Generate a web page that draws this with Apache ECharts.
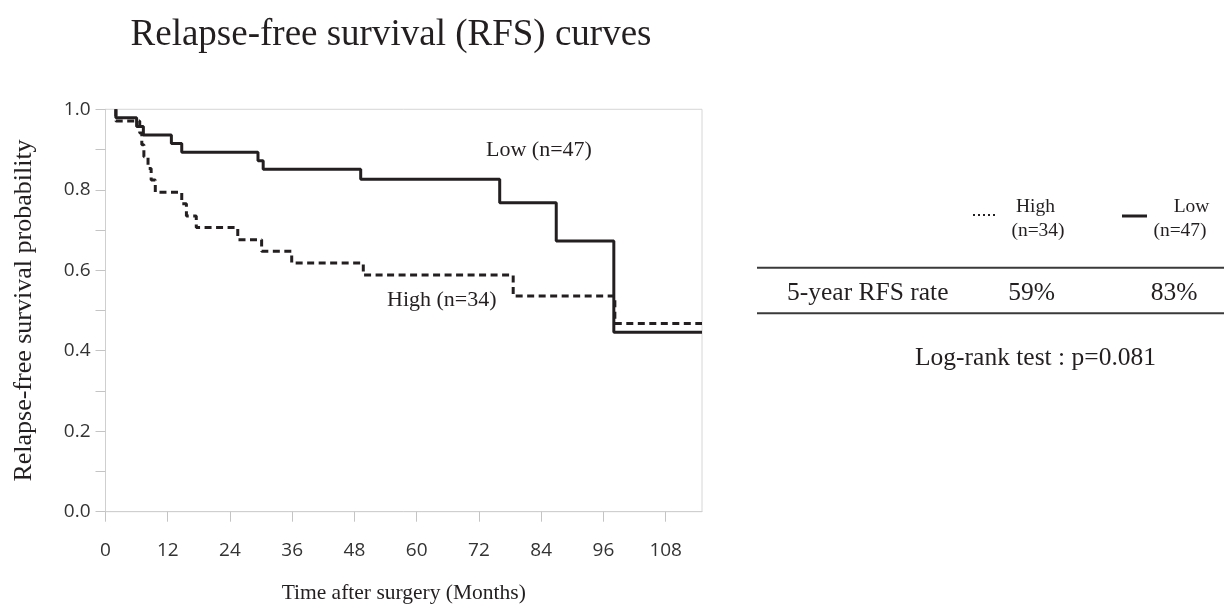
<!DOCTYPE html>
<html><head><meta charset="utf-8">
<script src="https://cdn.jsdelivr.net/npm/echarts@6.0.0/dist/echarts.min.js"></script>
<style>html,body{margin:0;padding:0;background:#fff}#c{width:1224px;height:604px}</style>
</head><body><div id="c"></div>
<script>
// ---- data ----
const titleText = 'Relapse-free survival (RFS) curves';
const xName = 'Time after surgery (Months)';
const yName = 'Relapse-free survival probability';
const xTicks = [0, 12, 24, 36, 48, 60, 72, 84, 96, 108];
const yLabels = [0, 0.2, 0.4, 0.6, 0.8, 1.0];
const yTicks = [0, 0.1, 0.2, 0.3, 0.4, 0.5, 0.6, 0.7, 0.8, 0.9, 1.0];
const xMax = 115;

// Low group (solid)
const lowTime = [2, 2, 6, 7.3, 12.7, 14.7, 29.4, 30.4, 49.2, 76.0, 86.9, 98.0, 115];
const lowSurv = [1.0, 0.979, 0.957, 0.936, 0.915, 0.893, 0.872, 0.851, 0.826, 0.768, 0.673, 0.446, 0.446];
// High group (dashed)
const highTime = [2, 2, 6.6, 7.0, 7.4, 8.2, 8.8, 9.6, 14.7, 15.6, 17.5, 25.5, 30.1, 35.9, 49.7, 78.6, 98.2, 115];
const highSurv = [1.0, 0.971, 0.941, 0.912, 0.882, 0.853, 0.824, 0.794, 0.765, 0.735, 0.706, 0.676, 0.647, 0.618, 0.588, 0.536, 0.468, 0.468];

const groups = ['High', 'Low'];
const groupN = [34, 47];
const rowLabel = '5-year RFS rate';
const rfs5 = ['59%', '83%'];
const pText = 'Log-rank test : p=0.081';

// ---- chart ----
const serif = '"Liberation Serif", "Times New Roman", serif';
const ink = '#231f20';
const chart = echarts.init(document.getElementById('c'), null, {renderer: 'canvas'});

function txt(x, y, text, size, align) {
  return {type: 'text', x: x, y: y, silent: true,
    style: {text: text, fontFamily: serif, fontSize: size, fill: ink,
      align: align || 'left', verticalAlign: 'middle'}};
}

const option = {
  animation: false,
  backgroundColor: '#ffffff',
  grid: {left: 105.5, top: 109.3, right: 522, bottom: 92.3, show: true,
    borderColor: '#d6d6d6', borderWidth: 1, containLabel: false, outerBoundsMode: 'none'},
  xAxis: {
    type: 'value', min: 0, max: xMax,
    name: xName, nameLocation: 'middle', nameGap: 71,
    nameTextStyle: {fontFamily: serif, fontSize: 21.5, color: ink},
    axisLine: {show: true, lineStyle: {color: '#cfcfcf', width: 1}},
    axisTick: {show: true, customValues: xTicks, length: 10, lineStyle: {color: '#c4c4c4'}},
    axisLabel: {customValues: xTicks, margin: 29, fontFamily: 'Open Sans', fontSize: 19, color: '#333333'},
    splitLine: {show: false}
  },
  yAxis: {
    type: 'value', min: 0, max: 1,
    name: yName, nameLocation: 'middle', nameGap: 68,
    nameTextStyle: {fontFamily: serif, fontSize: 26, color: ink},
    axisLine: {show: true, lineStyle: {color: '#cfcfcf', width: 1}},
    axisTick: {show: true, customValues: yTicks, length: 10, lineStyle: {color: '#c4c4c4'}},
    axisLabel: {customValues: yLabels, margin: 15, fontFamily: 'Open Sans', fontSize: 19, color: '#333333',
      formatter: v => Number(v).toFixed(1)},
    splitLine: {show: false}
  },
  series: [
    {name: groups[1], type: 'line', step: 'end', symbol: 'none', z: 3,
      data: lowTime.map((t, i) => [t, lowSurv[i]]),
      lineStyle: {color: ink, width: 3, type: 'solid'}},
    {name: groups[0], type: 'line', step: 'end', symbol: 'none', z: 4,
      data: highTime.map((t, i) => [t, highSurv[i]]),
      lineStyle: {color: ink, width: 3, type: [7, 4.5]}}
  ],
  graphic: [
    txt(391, 35, titleText, 37, 'center'),
    txt(486, 150, groups[1] + ' (n=' + groupN[1] + ')', 22),
    txt(387, 300, groups[0] + ' (n=' + groupN[0] + ')', 22),
    // legend
    {type: 'line', silent: true, shape: {x1: 973, y1: 215, x2: 998, y2: 215},
      style: {stroke: ink, lineWidth: 2, lineDash: [2, 3]}},
    txt(1035.5, 207, groups[0], 19.5, 'center'),
    txt(1038, 231, '(n=' + groupN[0] + ')', 19.5, 'center'),
    {type: 'line', silent: true, shape: {x1: 1122, y1: 216, x2: 1147, y2: 216},
      style: {stroke: ink, lineWidth: 3}},
    txt(1191.5, 207, groups[1], 19.5, 'center'),
    txt(1180, 231, '(n=' + groupN[1] + ')', 19.5, 'center'),
    // table
    {type: 'line', silent: true, shape: {x1: 757, y1: 267.7, x2: 1224, y2: 267.7},
      style: {stroke: '#3a3a3a', lineWidth: 2}},
    {type: 'line', silent: true, shape: {x1: 757, y1: 313.3, x2: 1224, y2: 313.3},
      style: {stroke: '#3a3a3a', lineWidth: 2}},
    txt(787, 293, rowLabel, 25.5),
    txt(1031.5, 293, rfs5[0], 25.5, 'center'),
    txt(1174, 293, rfs5[1], 25.5, 'center'),
    txt(915, 358, pText, 25.5)
  ]
};
chart.setOption(option);
</script>
</body></html>
